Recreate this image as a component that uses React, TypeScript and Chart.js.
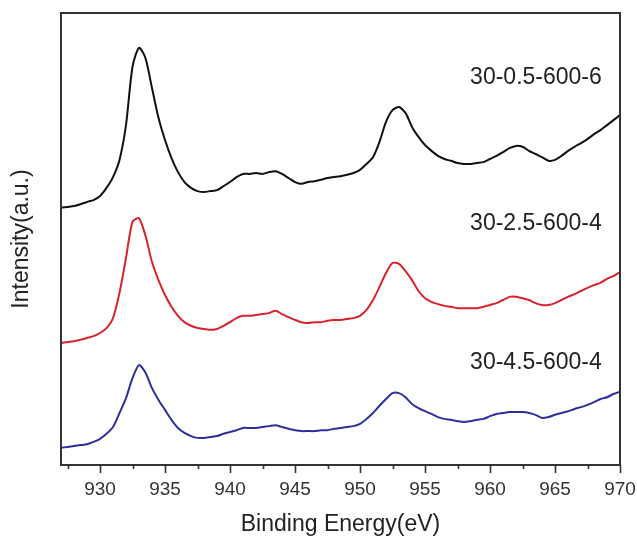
import React, { useEffect, useRef } from "react";
import { Chart, registerables } from "chart.js";

Chart.register(...registerables);

// Binding-energy grid: 927 eV to 970 eV, sampled every 0.5 eV
const energyStart = 927;
const energyStep = 0.5;

// Intensity (a.u., stacked/offset as in the figure)
const series0556 = [
  56.9, 57.1, 57.3, 57.7, 58.2, 58.6, 59.5, 61.3, 63.7, 67.5,
  75.2, 88.1, 92.3, 90.0, 83.4, 76.8, 71.9, 67.9, 64.8, 62.6,
  61.3, 60.6, 60.4, 60.6, 60.8, 61.7, 62.6, 63.7, 64.4, 64.4,
  64.6, 64.4, 64.8, 65.0, 64.4, 63.5, 62.6, 62.2, 62.6, 62.8,
  63.1, 63.5, 63.7, 63.9, 64.2, 64.6, 65.3, 66.6, 68.1, 71.5,
  75.9, 78.5, 79.2, 77.9, 74.8, 72.6, 70.8, 69.5, 68.4, 67.7,
  67.3, 66.8, 66.6, 66.6, 66.8, 67.0, 67.7, 68.4, 69.2, 70.1,
  70.6, 70.4, 69.5, 68.8, 68.1, 67.3, 67.5, 68.4, 69.5, 70.4,
  71.2, 72.1, 73.2, 74.1, 75.2, 76.3, 77.4,
];

const series2564 = [
  27.0, 27.2, 27.4, 27.7, 28.1, 28.5, 29.2, 30.3, 32.5, 38.1,
  45.8, 53.8, 54.6, 50.7, 44.9, 40.9, 37.6, 35.0, 33.0, 31.6,
  30.8, 30.3, 30.1, 29.9, 30.1, 30.8, 31.6, 32.5, 33.0, 33.0,
  33.2, 33.4, 33.6, 34.1, 33.4, 32.7, 32.1, 31.6, 31.4, 31.6,
  31.6, 31.9, 32.1, 32.1, 32.3, 32.5, 33.0, 34.3, 36.5, 39.4,
  42.5, 44.7, 44.5, 42.9, 40.9, 38.5, 36.9, 36.1, 35.6, 35.2,
  35.0, 34.7, 34.7, 34.7, 34.7, 35.0, 35.4, 35.8, 36.5, 37.2,
  37.2, 36.9, 36.5, 35.8, 35.4, 35.4, 35.8, 36.5, 37.2, 37.8,
  38.5, 39.2, 39.8, 40.3, 41.2, 41.8, 42.7,
];

const series4564 = [
  3.8, 4.0, 4.2, 4.4, 4.6, 5.1, 5.8, 6.9, 8.4, 11.5,
  14.8, 19.2, 22.1, 20.4, 17.0, 14.4, 12.2, 10.0, 8.2, 7.1,
  6.4, 6.0, 6.0, 6.2, 6.4, 6.9, 7.3, 7.7, 8.2, 8.2,
  8.2, 8.4, 8.6, 8.8, 8.4, 8.0, 7.7, 7.5, 7.5, 7.5,
  7.7, 7.7, 8.0, 8.2, 8.4, 8.6, 9.1, 10.2, 11.5, 13.1,
  14.6, 15.9, 15.9, 15.0, 13.5, 12.6, 11.9, 11.3, 10.6, 10.2,
  10.0, 9.7, 9.5, 9.7, 10.0, 10.2, 10.8, 11.3, 11.5, 11.7,
  11.7, 11.7, 11.5, 11.1, 10.4, 10.6, 11.1, 11.5, 11.9, 12.4,
  12.8, 13.3, 13.9, 14.6, 15.0, 15.7, 16.2,
];

const seriesNames = ["30-0.5-600-6", "30-2.5-600-4", "30-4.5-600-4"];
const seriesColors = ["#111111", "#d8232c", "#2f2f9c"];
const labelLevels = [85.8, 53.5, 22.6];
const labelEnergy = 968.6;

const majorTicks = [930, 935, 940, 945, 950, 955, 960, 965, 970];
const minorTicks = [927.5, 932.5, 937.5, 942.5, 947.5, 952.5, 957.5, 962.5, 967.5];

const xMin = 927;
const xMax = 970;
const yMin = 0;
const yMax = 100;

const FONT = '"Liberation Sans", Arial, Helvetica, sans-serif';

const framePlugin = {
  id: "xpsFrame",
  afterDatasetsDraw(chart: any) {
    const { ctx, chartArea, scales } = chart;
    const { left, right, top, bottom } = chartArea;
    const x = scales.x;
    const y = scales.y;
    ctx.save();
    ctx.strokeStyle = "#333333";
    ctx.lineWidth = 2;
    ctx.strokeRect(left, top, right - left, bottom - top);
    ctx.lineWidth = 1.6;
    ctx.beginPath();
    majorTicks.forEach((v) => {
      const px = Math.round(x.getPixelForValue(v)) + 0.5;
      ctx.moveTo(px, bottom);
      ctx.lineTo(px, bottom + 8);
    });
    minorTicks.forEach((v) => {
      const px = Math.round(x.getPixelForValue(v)) + 0.5;
      ctx.moveTo(px, bottom);
      ctx.lineTo(px, bottom + 4);
    });
    ctx.stroke();

    ctx.font = `23px ${FONT}`;
    ctx.fillStyle = "#222222";
    ctx.textAlign = "right";
    ctx.textBaseline = "middle";
    seriesNames.forEach((name, i) => {
      ctx.fillText(name, x.getPixelForValue(labelEnergy), y.getPixelForValue(labelLevels[i]));
    });
    ctx.restore();
  },
};

export default function App() {
  const canvasRef = useRef<HTMLCanvasElement | null>(null);

  useEffect(() => {
    const canvas = canvasRef.current;
    if (!canvas) return;
    const energies = series0556.map((_, i) => energyStart + i * energyStep);
    const allSeries = [series0556, series2564, series4564];
    const chart = new Chart(canvas, {
      type: "line",
      data: {
        datasets: allSeries.map((vals, s) => ({
          label: seriesNames[s],
          data: vals.map((v, i) => ({ x: energies[i], y: v })),
          borderColor: seriesColors[s],
          borderWidth: 2,
          pointRadius: 0,
          tension: 0.25,
          fill: false,
        })),
      },
      options: {
        animation: false,
        responsive: false,
        maintainAspectRatio: false,
        layout: { padding: { top: 13, right: 17, left: 0, bottom: 0 } },
        plugins: {
          legend: { display: false },
          tooltip: { enabled: false },
          title: { display: false },
        },
        scales: {
          x: {
            type: "linear",
            min: xMin,
            max: xMax,
            afterFit: (s: any) => {
              s.height = 71;
              s.paddingLeft = 0;
              s.paddingRight = 0;
            },
            afterBuildTicks: (s: any) => {
              s.ticks = majorTicks.map((v) => ({ value: v }));
            },
            grid: { display: false, drawTicks: false },
            border: { display: false },
            ticks: {
              color: "#333333",
              font: { family: FONT, size: 19 },
              padding: 13,
              maxRotation: 0,
              autoSkip: false,
            },
            title: {
              display: true,
              text: "Binding Energy(eV)",
              color: "#222222",
              font: { family: FONT, size: 23, lineHeight: 1 },
              padding: 0,
            },
          },
          y: {
            type: "linear",
            min: yMin,
            max: yMax,
            afterFit: (s: any) => {
              s.width = 61;
              s.paddingTop = 0;
              s.paddingBottom = 0;
            },
            grid: { display: false, drawTicks: false },
            border: { display: false },
            ticks: { display: false },
            title: {
              display: true,
              text: "Intensity(a.u.)",
              color: "#222222",
              font: { family: FONT, size: 23, lineHeight: 1 },
              padding: { top: 10, bottom: 0 },
            },
          },
        },
      },
      plugins: [framePlugin],
    });
    return () => chart.destroy();
  }, []);

  return (
    <div style={{ position: "fixed", left: 0, top: 0, width: 637, height: 536, background: "#fff" }}>
      <canvas ref={canvasRef} width={637} height={536} />
    </div>
  );
}
